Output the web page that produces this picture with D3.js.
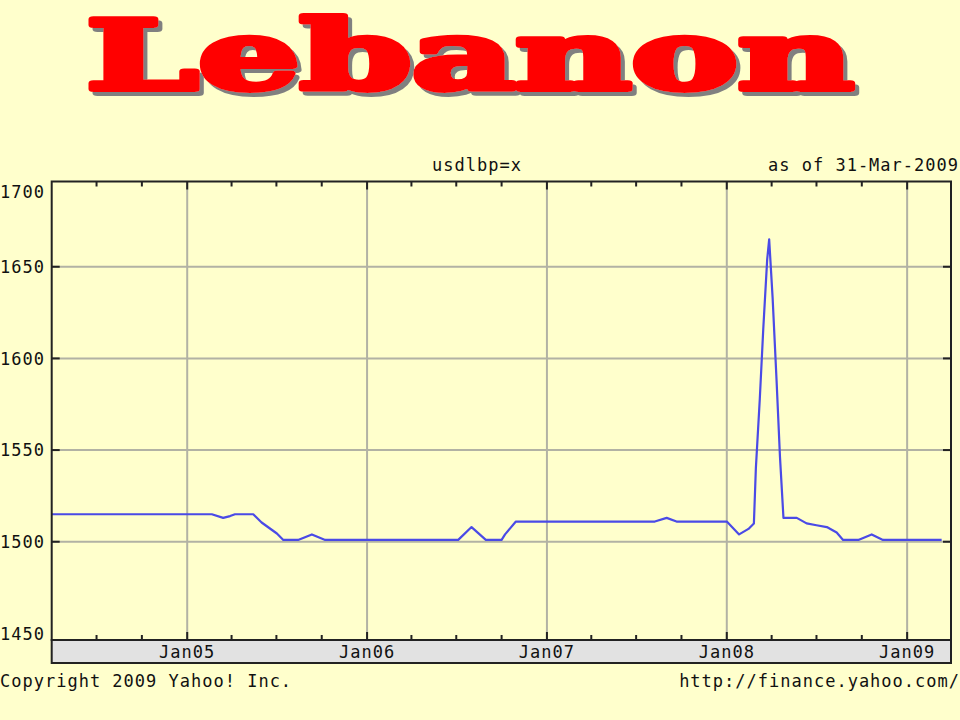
<!DOCTYPE html>
<html>
<head>
<meta charset="utf-8">
<script src="https://cdn.jsdelivr.net/npm/d3@7"></script>
<style>
  html, body { margin: 0; padding: 0; background: #ffffcc; }
  svg { display: block; }
  .mono { font-family: "DejaVu Sans Mono", monospace; font-size: 17px; letter-spacing: 1px; fill: #111; }
</style>
</head>
<body>
<script>
// ---- data ----
const dates = ["2004-04-01","2005-02-20","2005-03-15","2005-03-29","2005-04-08","2005-05-15","2005-06-01","2005-07-02","2005-07-15","2005-08-14","2005-09-11","2005-10-08","2006-07-05","2006-08-01","2006-08-30","2006-10-01","2006-10-08","2006-10-30","2007-08-08","2007-09-01","2007-09-21","2008-01-01","2008-01-26","2008-02-14","2008-02-25","2008-02-29","2008-03-08","2008-03-15","2008-03-23","2008-03-27","2008-04-03","2008-04-11","2008-04-18","2008-04-25","2008-05-22","2008-06-11","2008-07-01","2008-07-22","2008-08-11","2008-08-24","2008-09-24","2008-10-21","2008-11-13","2009-03-12"];
const values = [1515,1515,1513,1514,1515,1515,1510.5,1504.5,1501,1501,1504,1501,1501,1508,1501,1501,1504,1511,1511,1513,1511,1511,1504,1507,1510,1540,1578,1616,1654,1665,1633,1588,1546,1513,1513,1510,1509,1508,1505,1501,1501,1504,1501,1501];
const yTicks = [1450,1500,1550,1600,1650,1700];
const xLabels = ["Jan05","Jan06","Jan07","Jan08","Jan09"];
const titleText = "Lebanon";
const symbolText = "usdlbp=x";
const asOfText = "as of 31-Mar-2009";
const copyrightText = "Copyright 2009 Yahoo! Inc.";
const urlText = "http://finance.yahoo.com/";

// ---- layout ----
const W = 960, H = 720;
const pLeft = 51.7, pRight = 951, pTop = 181.5, pBottom = 640, bandBottom = 663;
const parse = d3.timeParse("%Y-%m-%d");
const data = dates.map((d, i) => ({ date: parse(d), value: values[i] }));

const svg = d3.select("body").append("svg").attr("width", W).attr("height", H);
svg.append("rect").attr("width", W).attr("height", H).attr("fill", "#ffffcc");

// drop shadow filter for title
const filt = svg.append("defs").append("filter").attr("id", "shadow")
  .attr("x", "-5%").attr("y", "-10%").attr("width", "115%").attr("height", "130%");
filt.append("feDropShadow").attr("dx", 4).attr("dy", 4).attr("stdDeviation", 0.6)
  .attr("flood-color", "#808080").attr("flood-opacity", 1);

const x = d3.scaleTime().domain([parse("2004-04-01"), parse("2009-03-31")]).range([pLeft, pRight]);
const y = d3.scaleLinear().domain([1446.4, 1696.5]).range([pBottom, pTop]);

// Title
svg.append("text")
  .attr("x", 86).attr("y", 89)
  .attr("textLength", 768).attr("lengthAdjust", "spacingAndGlyphs")
  .style("font-family", "'DejaVu Serif', serif")
  .style("font-weight", "bold")
  .style("font-size", "96px")
  .attr("fill", "#ff0000").attr("stroke", "#ff0000").attr("stroke-width", 6)
  .attr("stroke-linejoin", "round")
  .attr("filter", "url(#shadow)")
  .text(titleText);

// gridlines
const gridColor = "#b2b2a4";
const monthTicks = x.ticks(d3.timeMonth.every(3)).filter(d => d > x.domain()[0] && d < x.domain()[1]);
const janTicks = monthTicks.filter(d => d.getMonth() === 0);
svg.append("g").selectAll("line").data(janTicks).join("line")
  .attr("x1", d => x(d)).attr("x2", d => x(d)).attr("y1", pTop).attr("y2", pBottom)
  .attr("stroke", gridColor).attr("stroke-width", 2);
const gridVals = yTicks.filter(v => y(v) > pTop + 2 && y(v) < pBottom - 8);
svg.append("g").selectAll("line").data(gridVals).join("line")
  .attr("x1", pLeft).attr("x2", pRight).attr("y1", d => y(d)).attr("y2", d => y(d))
  .attr("stroke", gridColor).attr("stroke-width", 2);

// data line
svg.append("path").datum(data)
  .attr("fill", "none").attr("stroke", "#4a4ae6").attr("stroke-width", 2.2)
  .attr("stroke-linejoin", "round")
  .attr("d", d3.line().x(d => x(d.date)).y(d => y(d.value)));

// axis band
svg.append("rect").attr("x", pLeft).attr("y", pBottom).attr("width", pRight - pLeft).attr("height", bandBottom - pBottom)
  .attr("fill", "#e2e2e2").attr("stroke", "#222").attr("stroke-width", 2);

// frame
svg.append("rect").attr("x", pLeft).attr("y", pTop).attr("width", pRight - pLeft).attr("height", pBottom - pTop)
  .attr("fill", "none").attr("stroke", "#222").attr("stroke-width", 2);

// x ticks (top and bottom, inward)
const tk = svg.append("g").attr("stroke", "#222").attr("stroke-width", 2);
monthTicks.forEach(d => {
  const len = d.getMonth() === 0 ? 8 : 5;
  tk.append("line").attr("x1", x(d)).attr("x2", x(d)).attr("y1", pTop).attr("y2", pTop + len);
  tk.append("line").attr("x1", x(d)).attr("x2", x(d)).attr("y1", pBottom).attr("y2", pBottom - len);
});
// y ticks (left and right, inward)
gridVals.forEach(v => {
  tk.append("line").attr("x1", pLeft).attr("x2", pLeft + 8).attr("y1", y(v)).attr("y2", y(v));
  tk.append("line").attr("x1", pRight).attr("x2", pRight - 8).attr("y1", y(v)).attr("y2", y(v));
});

// x labels
svg.append("g").selectAll("text").data(janTicks).join("text")
  .attr("class", "mono").attr("x", d => x(d)).attr("y", 658).attr("text-anchor", "middle")
  .text((d, i) => xLabels[i]);

// y labels
svg.append("g").selectAll("text").data(yTicks).join("text")
  .attr("class", "mono").attr("x", 45).attr("text-anchor", "end")
  .attr("y", d => Math.min(Math.max(y(d), pTop + 10), pBottom - 4)).attr("dy", "0.36em")
  .text(d => d);

// header & footer texts
svg.append("text").attr("class", "mono").attr("x", 432).attr("y", 171).text(symbolText);
svg.append("text").attr("class", "mono").attr("x", 959).attr("y", 171).attr("text-anchor", "end").text(asOfText);
svg.append("text").attr("class", "mono").attr("x", 0).attr("y", 687).text(copyrightText);
svg.append("text").attr("class", "mono").attr("x", 960).attr("y", 687).attr("text-anchor", "end").text(urlText);
</script>
</body>
</html>
